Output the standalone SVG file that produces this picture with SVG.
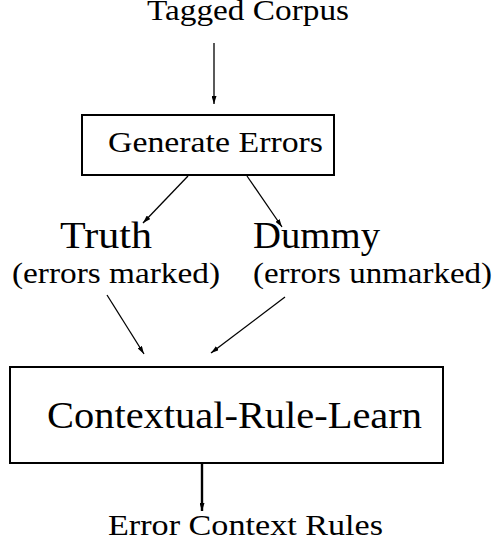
<svg xmlns="http://www.w3.org/2000/svg" width="496" height="539" viewBox="0 0 496 539">
  <style>
    text { font-family: "Liberation Serif", "Times New Roman", serif; fill: #000; }
    .box { fill: #fff; stroke: #000; stroke-width: 2; }
    .edge { stroke: #000; stroke-width: 1.3; fill: none; marker-end: url(#arrow); }
    .thick { stroke-width: 2.4; }
  </style>
  <defs>
    <marker id="arrow" viewBox="0 0 8 5" refX="8" refY="2.5" markerWidth="8" markerHeight="5" markerUnits="userSpaceOnUse" orient="auto">
      <path d="M0,0 L8,2.5 L0,5 Z" fill="#000"/>
    </marker>
  </defs>
  <rect width="496" height="539" fill="#fff"/>

  <g id="connectors">
    <line class="edge" x1="214" y1="43" x2="214" y2="104"/>
    <line class="edge" x1="188" y1="176" x2="143" y2="223"/>
    <line class="edge" x1="247" y1="176" x2="282" y2="227"/>
    <line class="edge" x1="107" y1="295" x2="144" y2="354"/>
    <line class="edge" x1="285" y1="297" x2="211" y2="353"/>
    <line class="edge thick" x1="202" y1="464" x2="202" y2="511"/>
  </g>

  <g id="tagged-corpus">
    <text x="147" y="20" font-size="29" textLength="202" lengthAdjust="spacingAndGlyphs">Tagged Corpus</text>
  </g>

  <g id="generate-errors">
    <rect class="box" x="82" y="115" width="252" height="60"/>
    <text x="108" y="152" font-size="29" textLength="215" lengthAdjust="spacingAndGlyphs">Generate Errors</text>
  </g>

  <g id="truth">
    <text x="60" y="248" font-size="37" textLength="92" lengthAdjust="spacingAndGlyphs">Truth</text>
    <text x="12" y="283" font-size="30" textLength="208" lengthAdjust="spacingAndGlyphs">(errors marked)</text>
  </g>

  <g id="dummy">
    <text x="253" y="248" font-size="37" textLength="127" lengthAdjust="spacingAndGlyphs">Dummy</text>
    <text x="253" y="283" font-size="30" textLength="239" lengthAdjust="spacingAndGlyphs">(errors unmarked)</text>
  </g>

  <g id="contextual-rule-learn">
    <rect class="box" x="10" y="367" width="433" height="96"/>
    <text x="47" y="428" font-size="38" textLength="375" lengthAdjust="spacingAndGlyphs">Contextual-Rule-Learn</text>
  </g>

  <g id="error-context-rules">
    <text x="108" y="535" font-size="29" textLength="275" lengthAdjust="spacingAndGlyphs">Error Context Rules</text>
  </g>
</svg>
